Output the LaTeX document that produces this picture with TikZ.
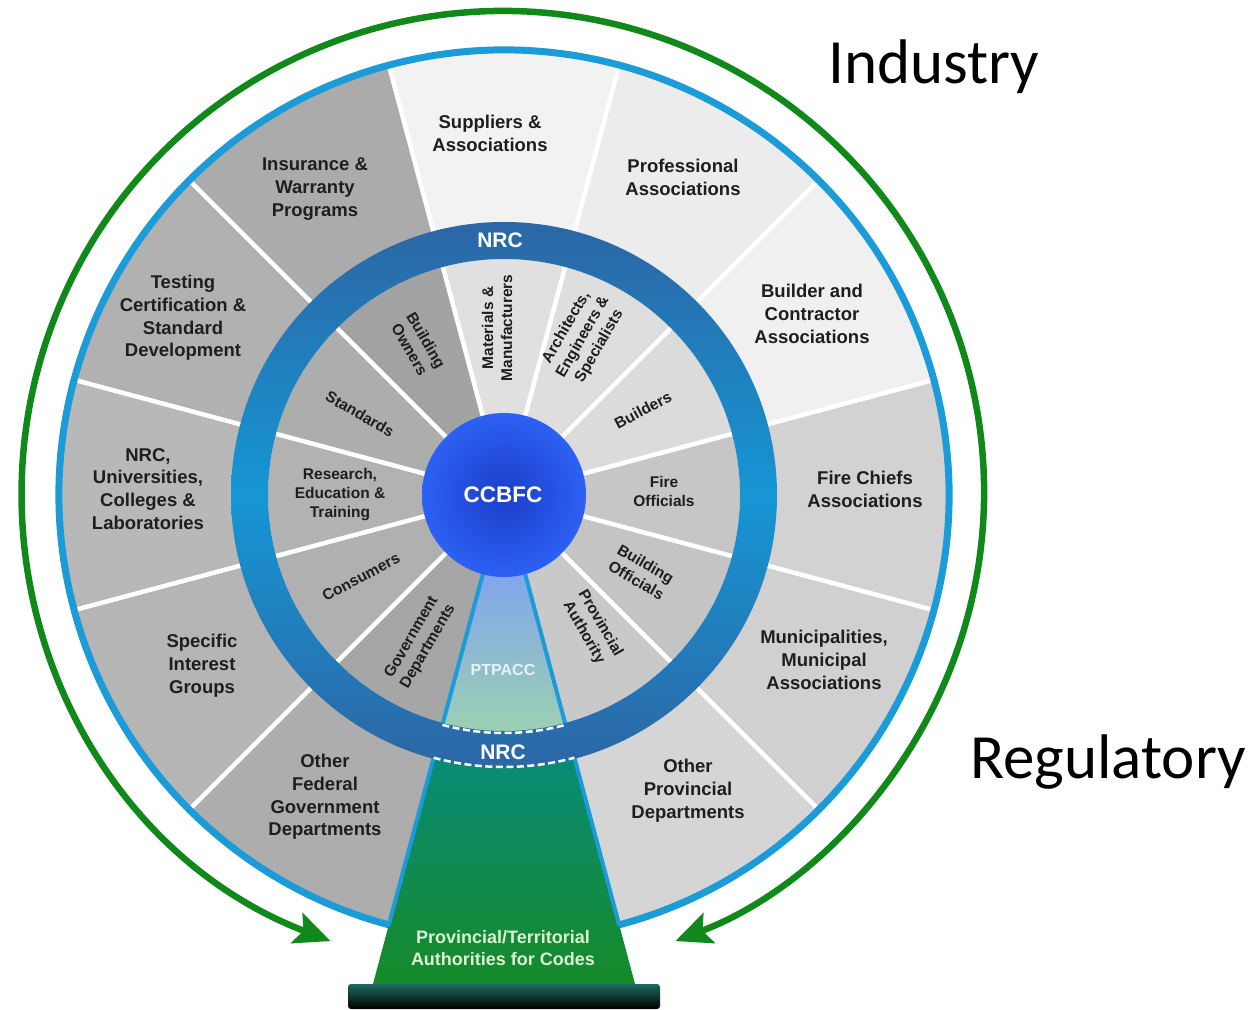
\documentclass[tikz,border=0pt]{standalone}
\usepackage{fontspec}
\setmainfont{Liberation Sans}
\newfontfamily\calib{Carlito}
\usetikzlibrary{arrows.meta}
\definecolor{ringblue}{HTML}{1B9BD7}
\definecolor{arcgreen}{HTML}{11881A}
\definecolor{txt}{HTML}{1E1E1E}
\definecolor{ringdark}{RGB}{44,102,165}
\definecolor{ringlight}{RGB}{22,150,212}
\newcommand\wsect[5]{\fill[#1] (#2:#4) arc[start angle=#2,end angle=#3,radius=#4] -- (#3:#5) arc[start angle=#3,end angle=#2,radius=#5] -- cycle;}
\begin{document}
\begin{tikzpicture}[x=1pt,y=1pt,
  olbl/.style={font=\bfseries\fontsize{18.5}{22.8}\selectfont, align=center, text=txt, inner sep=0pt},
  ilbl/.style={font=\bfseries\fontsize{15.5}{19}\selectfont, align=center, text=txt, inner sep=0pt},
  spoke/.style={white, line width=4.5pt},
  edgeline/.style={ringblue, line width=4pt},
  bigword/.style={font=\calib\fontsize{63}{70}\selectfont, text=black, inner sep=0pt, anchor=base west},
  wlbl/.style={font=\bfseries\fontsize{21}{24}\selectfont, text=white, inner sep=0pt, align=center}]
\useasboundingbox (0,0) rectangle (1257,1009);
\fill[white] (0,0) rectangle (1257,1009);
\begin{scope}[shift={(504,514)}]
  % outer sectors
  \wsect{gray!35!white}{-15}{15}{236}{444}
  \wsect{gray!12!white}{15}{45}{236}{444}
  \wsect{gray!15!white}{45}{75}{236}{444}
  \wsect{gray!10!white}{75}{105}{236}{444}
  \wsect{gray!66!white}{105}{135}{236}{444}
  \wsect{gray!61!white}{135}{165}{236}{444}
  \wsect{gray!56!white}{165}{195}{236}{444}
  \wsect{gray!58!white}{195}{225}{236}{444}
  \wsect{gray!64!white}{225}{255}{236}{444}
  \wsect{gray!33!white}{285}{315}{236}{444}
  \wsect{gray!37!white}{315}{345}{236}{444}
  % inner sectors
  \wsect{gray!45!white}{-15}{15}{80}{236}
  \wsect{gray!28!white}{15}{45}{80}{236}
  \wsect{gray!26!white}{45}{75}{80}{236}
  \wsect{gray!24!white}{75}{105}{80}{236}
  \wsect{gray!72!white}{105}{135}{80}{236}
  \wsect{gray!64!white}{135}{165}{80}{236}
  \wsect{gray!60!white}{165}{195}{80}{236}
  \wsect{gray!62!white}{195}{225}{80}{236}
  \wsect{gray!70!white}{225}{255}{80}{236}
  \wsect{gray!42!white}{285}{315}{80}{236}
  \wsect{gray!46!white}{315}{345}{80}{236}
  % spokes
  \foreach \a in {15,45,...,225,315,345}
    \draw[spoke] (\a:80) -- (\a:442);
  % green trapezoid and base
  \shade[top color={rgb,255:red,8;green,140;blue,122}, bottom color={rgb,255:red,22;green,138;blue,40}]
    (-68.6,-256) -- (-131.3,-490) -- (131.3,-490) -- (68.6,-256) -- cycle;
  \shade[top color={rgb,255:red,30;green,105;blue,96}, bottom color=black, rounded corners=3pt]
    (-156,-514) rectangle (156,-489);
  % PTPACC wedge
  \shade[top color={rgb,255:red,130;green,165;blue,238}, bottom color={rgb,255:red,156;green,210;blue,176}]
    (255:80) -- (255:240) arc[start angle=255,end angle=285,radius=240] -- (285:80) -- cycle;
  % outer blue circle and wedge edges
  \draw[ringblue, line width=7pt] (-75:445) arc[start angle=-75,end angle=255,radius=445];
  \draw[edgeline] (255:80) -- (255:446);
  \draw[edgeline] (285:80) -- (285:446);
  % NRC ring
  \shade[even odd rule, top color=ringdark, bottom color=ringdark, middle color=ringlight]
    (0,0) circle[radius=273] (0,0) circle[radius=236];
  \draw[white, line width=2.5pt, dash pattern=on 7pt off 3.5pt] (255:238) arc[start angle=255,end angle=285,radius=238];
  \draw[white, line width=2.5pt, dash pattern=on 7pt off 3.5pt] (255:272) arc[start angle=255,end angle=285,radius=272];
  % CCBFC
  \shade[inner color={rgb,255:red,28;green,62;blue,200}, outer color={rgb,255:red,44;green,96;blue,244}] (0,0) circle[radius=82];
  \node[wlbl, font=\bfseries\fontsize{22.5}{26}\selectfont] (ccbfc) at (-1,0) {CCBFC};
  \node[wlbl] (nrctop) at (-4,255) {NRC};
  \node[wlbl] (nrcbot) at (-1,-257) {NRC};
  \node[wlbl, font=\bfseries\fontsize{16}{19}\selectfont, text={rgb,255:red,232;green,240;blue,250}] (ptpacc) at (-1,-175) {PTPACC};
  \node[wlbl, font=\bfseries\fontsize{18}{22}\selectfont, text={rgb,255:red,220;green,242;blue,210}] (pta) at (-1,-453) {Provincial/Territorial\\Authorities for Codes};
  % outer labels
  \node[olbl] (supp) at (-14,362) {Suppliers \&\\Associations};
  \node[olbl] (prof) at (179,318) {Professional\\Associations};
  \node[olbl] (build) at (308,181) {Builder and\\Contractor\\Associations};
  \node[olbl] (fire) at (361,6) {Fire Chiefs\\Associations};
  \node[olbl] (muni) at (320,-165) {Municipalities,\\Municipal\\Associations};
  \node[olbl] (oprov) at (184,-296) {Other\\Provincial\\Departments};
  \node[olbl] (ofed) at (-179,-302) {Other\\Federal\\Government\\Departments};
  \node[olbl] (spec) at (-302,-171) {Specific\\Interest\\Groups};
  \node[olbl] (univ) at (-356,6) {NRC,\\Universities,\\Colleges \&\\Laboratories};
  \node[olbl] (test) at (-321,177) {Testing\\Certification \&\\Standard\\Development};
  \node[olbl] (ins) at (-189,306) {Insurance \&\\Warranty\\Programs};
  % inner labels
  \node[ilbl, rotate=90] (mat) at (-7,167) {Materials \&\\Manufacturers};
  \node[ilbl, rotate=60] (arch) at (79,158) {Architects,\\Engineers \&\\Specialists};
  \node[ilbl, rotate=28] (blds) at (139,85) {Builders};
  \node[ilbl] (fireo) at (160,4) {Fire\\Officials};
  \node[ilbl, rotate=-30] (bldo) at (137,-77) {Building\\Officials};
  \node[ilbl, rotate=-60] (prova) at (88,-133) {Provincial\\Authority};
  \node[ilbl, rotate=60] (gov) at (-84,-147) {Government\\Departments};
  \node[ilbl, rotate=28] (cons) at (-143,-82) {Consumers};
  \node[ilbl] (res) at (-164,0) {Research,\\Education \&\\Training};
  \node[ilbl, rotate=-30] (stds) at (-144,81) {Standards};
  \node[ilbl, rotate=-60] (own) at (-86,150) {Building\\Owners};
  % green double arrow arc
  \draw[arcgreen, line width=6.5pt, {Stealth[length=36pt,width=32pt,inset=7pt]}-{Stealth[length=36pt,width=32pt,inset=7pt]}]
    (-173.4,-446.1) arc[start angle=249,end angle=-69,radius=481];
  % big words
  \node[bigword] (industry) at (324,411) {Industry};
  \node[bigword] (regulatory) at (466,-284) {Regulatory};
\end{scope}
\end{tikzpicture}
\end{document}
